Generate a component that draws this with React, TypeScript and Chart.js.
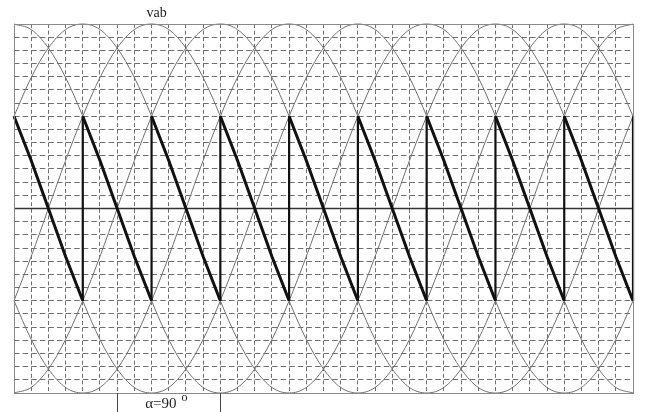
import React, { useEffect, useRef } from "react";
import { Chart, registerables } from "chart.js";

Chart.register(...registerables);

// x positions (electrical degrees, 15° steps)
const angles = [
  0, 15, 30, 45, 60, 75, 90, 105, 120, 135, 150, 165, 180, 195, 210, 225, 240, 255,
  270, 285, 300, 315, 330, 345, 360, 375, 390, 405, 420, 435, 450, 465, 480, 495, 510, 525, 540,
];

// one period of the line-to-line voltage (per unit), sampled every 15°
const sineCycle = [
  0, 0.26, 0.5, 0.71, 0.87, 0.97, 1, 0.97, 0.87, 0.71, 0.5, 0.26,
  0, -0.26, -0.5, -0.71, -0.87, -0.97, -1, -0.97, -0.87, -0.71, -0.5, -0.26,
];

// the six line voltages, as sample offsets into sineCycle (60° = 4 samples)
const phaseOffsets = [2, 6, 10, 14, 18, 22];

// output voltage over one 60° pulse at alpha = 90°
const sawSegment = [0.5, 0.26, 0, -0.26, -0.5];
const sawStarts = [0, 60, 120, 180, 240, 300, 360, 420, 480];
const commutations = [60, 120, 180, 240, 300, 360, 420, 480, 540];

const gridTicksX = angles;
const gridTicksY = [
  -1, -13 / 14, -12 / 14, -11 / 14, -10 / 14, -9 / 14, -8 / 14, -7 / 14, -6 / 14, -5 / 14, -4 / 14,
  -3 / 14, -2 / 14, -1 / 14, 0, 1 / 14, 2 / 14, 3 / 14, 4 / 14, 5 / 14, 6 / 14, 7 / 14, 8 / 14,
  9 / 14, 10 / 14, 11 / 14, 12 / 14, 13 / 14, 1,
];

const alphaMarks = [90, 180];
const titleText = "vab";
const alphaText = "α=90";

export default function App() {
  const ref = useRef<HTMLCanvasElement | null>(null);

  useEffect(() => {
    if (!ref.current) return;

    const sineSets = phaseOffsets.map((off) => ({
      data: angles.map((a, i) => ({ x: a, y: sineCycle[(i + off) % sineCycle.length] })),
      borderColor: "#707070",
      borderWidth: 1,
      pointRadius: 0,
      showLine: true,
      cubicInterpolationMode: "monotone" as const,
      clip: false as any,
      order: 3,
    }));

    const sawPts: { x: number; y: number | null }[] = [];
    sawStarts.forEach((s) => {
      sawSegment.forEach((v, j) => sawPts.push({ x: s + j * 15, y: v }));
      sawPts.push({ x: s + 60, y: null });
    });

    const vertPts: { x: number; y: number | null }[] = [];
    commutations.forEach((c) => {
      vertPts.push({ x: c, y: sawSegment[sawSegment.length - 1] });
      vertPts.push({ x: c, y: sawSegment[0] });
      vertPts.push({ x: c, y: null });
    });

    const decor = {
      id: "decor",
      afterDraw(chart: any) {
        const { ctx, chartArea, scales } = chart;
        const xs = scales.x;
        ctx.save();
        // frame
        ctx.strokeStyle = "#8a8a8a";
        ctx.lineWidth = 1;
        ctx.setLineDash([]);
        ctx.strokeRect(
          Math.round(chartArea.left) + 0.5,
          Math.round(chartArea.top) + 0.5,
          Math.round(chartArea.right - chartArea.left),
          Math.round(chartArea.bottom - chartArea.top)
        );
        // alpha markers
        ctx.strokeStyle = "#444";
        alphaMarks.forEach((a) => {
          const px = Math.round(xs.getPixelForValue(a)) + 0.5;
          ctx.beginPath();
          ctx.moveTo(px, chartArea.bottom);
          ctx.lineTo(px, chart.height);
          ctx.stroke();
        });
        // texts
        ctx.fillStyle = "#222";
        ctx.textBaseline = "alphabetic";
        ctx.textAlign = "left";
        ctx.font = '14px "Liberation Serif", "DejaVu Serif", serif';
        ctx.fillText(titleText, xs.getPixelForValue(120) - 5, 17);
        ctx.font = '15px "Liberation Serif", "DejaVu Serif", serif';
        const ax = xs.getPixelForValue(90) + 28;
        ctx.fillText(alphaText, ax, 408);
        const w = ctx.measureText(alphaText).width;
        ctx.font = '12px "Liberation Serif", "DejaVu Serif", serif';
        ctx.fillText("o", ax + w + 5, 401);
        ctx.restore();
      },
    };

    const chart = new Chart(ref.current, {
      type: "scatter",
      data: {
        datasets: [
          ...sineSets,
          {
            data: [
              { x: angles[0], y: 0 },
              { x: angles[angles.length - 1], y: 0 },
            ],
            borderColor: "#333",
            borderWidth: 1.5,
            pointRadius: 0,
            showLine: true,
            order: 2,
          },
          {
            data: vertPts,
            borderColor: "#111",
            borderWidth: 2.2,
            pointRadius: 0,
            showLine: true,
            spanGaps: false,
            clip: false as any,
            order: 1,
          },
          {
            data: sawPts,
            borderColor: "#111",
            borderWidth: 3,
            pointRadius: 0,
            showLine: true,
            spanGaps: false,
            clip: false as any,
            order: 0,
          },
        ] as any,
      },
      options: {
        animation: false,
        responsive: true,
        maintainAspectRatio: false,
        layout: { padding: { left: 14, right: 21, top: 24, bottom: 19 } },
        plugins: { legend: { display: false }, tooltip: { enabled: false } },
        scales: {
          x: {
            type: "linear",
            min: 0,
            max: 540,
            afterBuildTicks: (s: any) => {
              s.ticks = gridTicksX.map((v) => ({ value: v }));
            },
            ticks: { display: false },
            grid: { color: "#6e6e6e", lineWidth: 1, drawTicks: false },
            border: { display: false, dash: [4, 2.6] },
          },
          y: {
            type: "linear",
            min: -1,
            max: 1,
            afterBuildTicks: (s: any) => {
              s.ticks = gridTicksY.map((v) => ({ value: v }));
            },
            ticks: { display: false },
            grid: { color: "#6e6e6e", lineWidth: 1, drawTicks: false },
            border: { display: false, dash: [5.5, 3.1] },
          },
        },
      },
      plugins: [decor],
    });

    return () => chart.destroy();
  }, []);

  return (
    <div style={{ position: "fixed", left: 0, top: 0, width: 654, height: 412, background: "#fff" }}>
      <canvas ref={ref} />
    </div>
  );
}
